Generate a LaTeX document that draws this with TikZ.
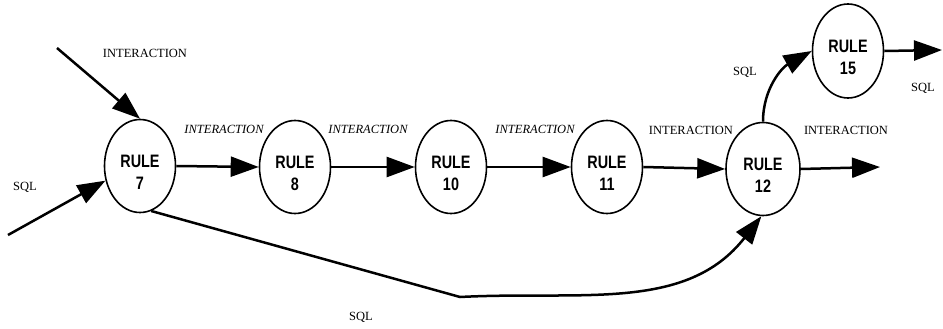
\documentclass[tikz,border=0pt]{standalone}
\usepackage{fontspec}
\setmainfont{Liberation Serif}
\newfontfamily\rulefont[FakeStretch=0.8]{Liberation Sans}
\usetikzlibrary{shapes.geometric,arrows.meta}

\tikzset{
  rulenode/.style={ellipse, draw, line width=1.6pt, minimum width=71pt, minimum height=93pt,
    inner sep=0pt, align=center, font=\rulefont\bfseries\fontsize{18}{22}\selectfont},
  flow/.style={line width=2.5pt, -{Triangle[length=28pt,width=20pt]}},
  lbl/.style={font=\fontsize{12.5}{14}\selectfont, inner sep=0pt},
  ilbl/.style={lbl, font=\fontsize{12.5}{14}\selectfont\itshape},
}
\newcommand{\rulelabel}[1]{\rule{0pt}{25pt}RULE\\#1}

\begin{document}
\begin{tikzpicture}[x=1pt,y=-1pt]
\useasboundingbox (0,0) rectangle (943,329);

% rule nodes
\node[rulenode] (r7)  at (140,166) {\rulelabel{7}};
\node[rulenode] (r8)  at (295,167) {\rulelabel{8}};
\node[rulenode] (r10) at (451,167) {\rulelabel{10}};
\node[rulenode] (r11) at (607,167) {\rulelabel{11}};
\node[rulenode, minimum width=74pt] (r12) at (763,169) {\rulelabel{12}};
\node[rulenode, minimum height=94pt] (r15) at (848,51) {\rulelabel{15}};

% free ends of the incoming and outgoing flows
\coordinate (inA)  at (57,48);
\coordinate (inB)  at (8,235);
\coordinate (out12) at (880,167);
\coordinate (out15) at (942,50);
\coordinate (dip)  at (460,297);

% flows
\draw[flow] (inA) -- (r7.north);
\draw[flow] (inB) -- (r7.203);
\draw[flow] (r7.east) -- (r8.west);
\draw[flow] (r8.east) -- (r10.west);
\draw[flow] (r10.east) -- (r11.west);
\draw[flow] (r11.east) -- (r12.west);
\draw[flow] (r12.east) -- (out12);
\draw[flow] (r15.east) -- (out15);
\draw[flow] (r12.north) to[out=90, in=209] (r15.west);
\draw[flow] (r7.-76) -- (dip) to[out=3, in=232] (r12.-92);

% flow labels
\node[lbl]  (tA)  at (145,53)  {INTERACTION};
\node[lbl]  (tB)  at (25,187)  {SQL};
\node[ilbl] (t78) at (224,129) {INTERACTION};
\node[ilbl] (t810) at (368,129) {INTERACTION};
\node[ilbl] (t1011) at (535,129) {INTERACTION};
\node[lbl]  (t1112) at (691,130) {INTERACTION};
\node[lbl]  (t12o) at (846,130) {INTERACTION};
\node[lbl]  (t1215) at (745,72) {SQL};
\node[lbl]  (t15o) at (923,88) {SQL};
\node[lbl]  (tdip) at (361,317) {SQL};
\end{tikzpicture}
\end{document}
